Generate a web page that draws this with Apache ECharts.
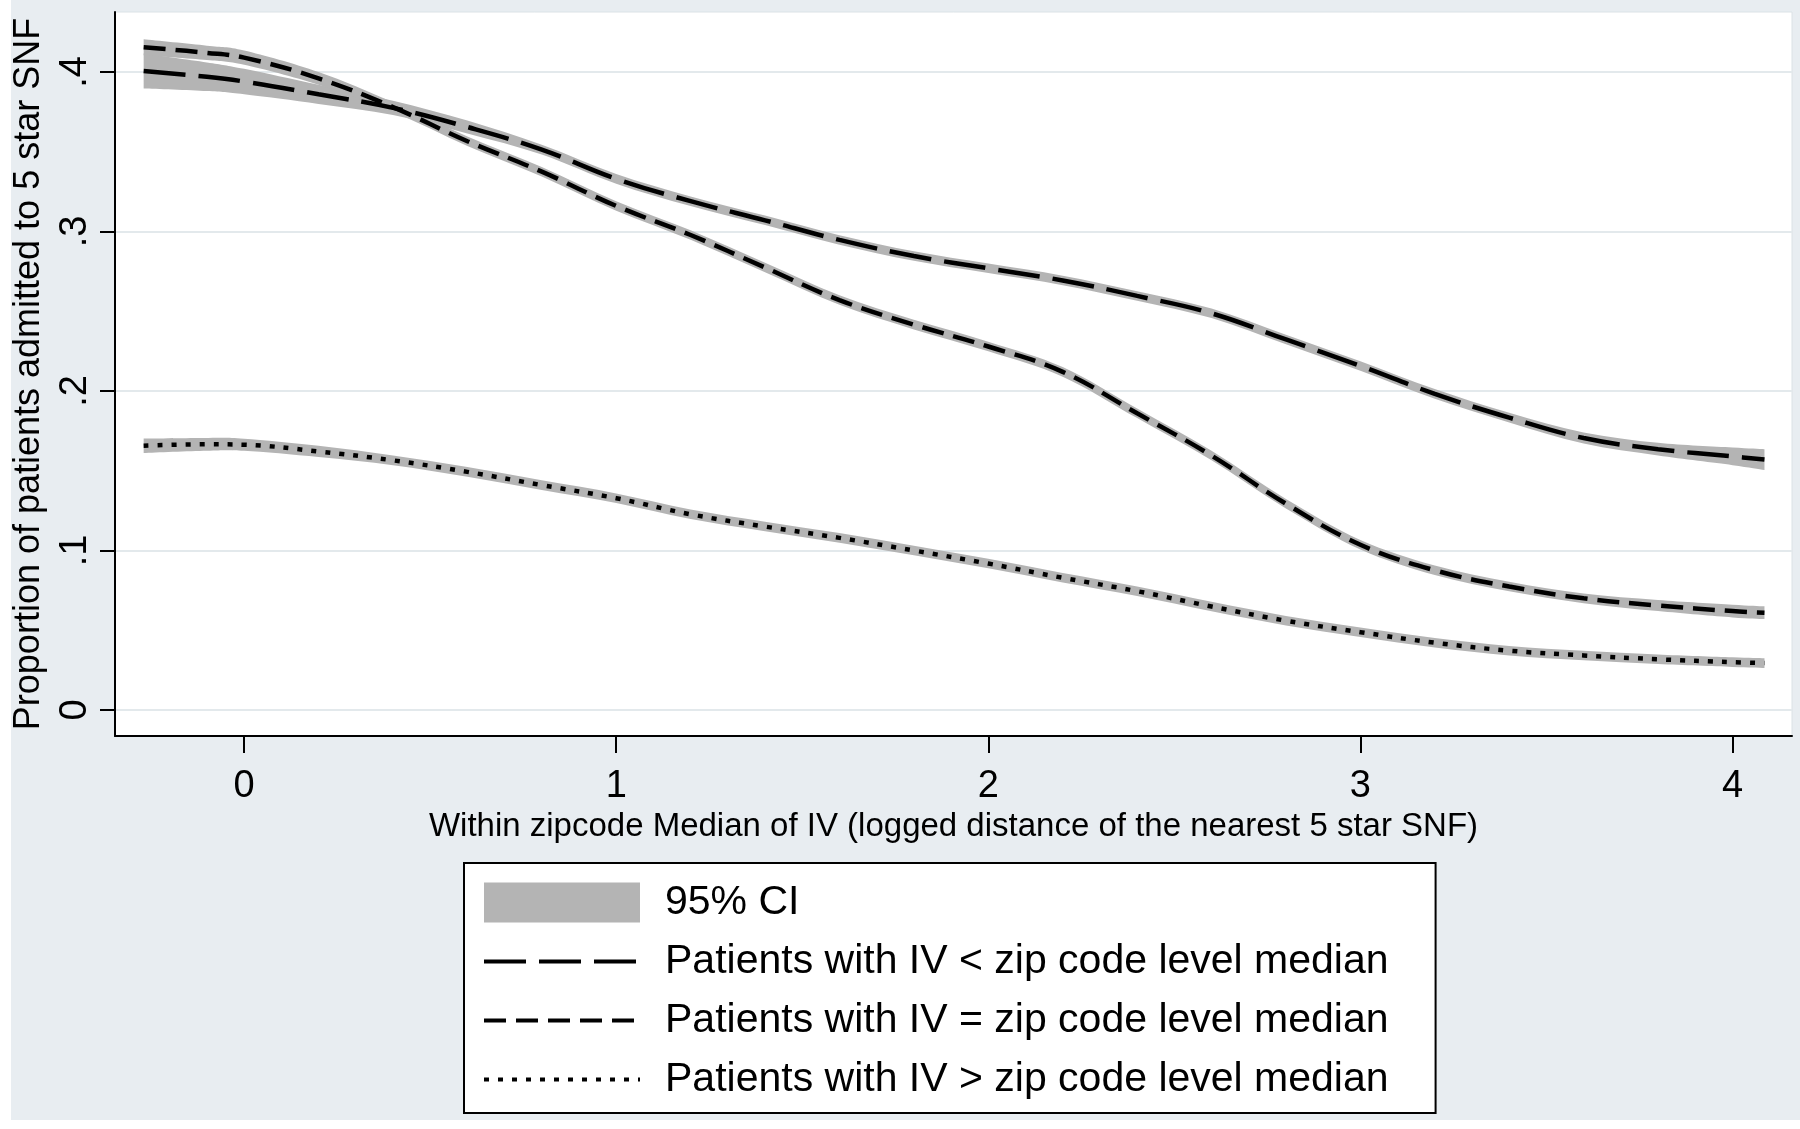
<!DOCTYPE html>
<html>
<head>
<meta charset="utf-8">
<script src="https://cdn.jsdelivr.net/npm/echarts@6/dist/echarts.min.js"></script>
<style>
html,body{margin:0;padding:0;background:#fff;}
#chart{width:1800px;height:1129px;}
</style>
</head>
<body>
<div id="chart"></div>
<script>
// x positions (within zipcode median of IV)
const xVals = [-0.27, -0.1, 0, 0.2, 0.4, 0.6, 0.8, 1.0, 1.2, 1.4, 1.6, 1.8, 2.0, 2.2, 2.4, 2.6, 2.8, 3.0, 3.2, 3.4, 3.6, 3.8, 4.0, 4.086];

// Patients with IV < zip code level median
const lessMid = [0.4006, 0.397, 0.394, 0.386, 0.3775, 0.3655, 0.3513, 0.333, 0.319, 0.307, 0.2947, 0.2846, 0.2769, 0.2693, 0.2596, 0.2487, 0.2323, 0.2157, 0.1982, 0.1833, 0.1705, 0.1635, 0.159, 0.157];
const lessLo  = [0.3896, 0.388, 0.386, 0.380, 0.373, 0.3615, 0.3483, 0.330, 0.316, 0.304, 0.2917, 0.2816, 0.2739, 0.2663, 0.2566, 0.2457, 0.2293, 0.2127, 0.1952, 0.1803, 0.167, 0.1595, 0.1535, 0.1505];
const lessHi  = [0.4116, 0.406, 0.402, 0.392, 0.382, 0.3695, 0.3543, 0.336, 0.322, 0.310, 0.2977, 0.2876, 0.2799, 0.2723, 0.2626, 0.2517, 0.2353, 0.2187, 0.2012, 0.1863, 0.174, 0.1675, 0.1645, 0.1635];

// Patients with IV = zip code level median
const eqMid = [0.4155, 0.412, 0.409, 0.396, 0.378, 0.3566, 0.3375, 0.316, 0.2978, 0.2774, 0.257, 0.2416, 0.2279, 0.212, 0.186, 0.1595, 0.1293, 0.1036, 0.0876, 0.0774, 0.070, 0.0655, 0.062, 0.061];
const eqLo  = [0.4105, 0.4075, 0.4045, 0.392, 0.375, 0.3536, 0.3345, 0.313, 0.2948, 0.2744, 0.254, 0.2386, 0.2249, 0.209, 0.183, 0.1565, 0.1263, 0.1006, 0.0846, 0.0744, 0.067, 0.062, 0.058, 0.057];
const eqHi  = [0.4205, 0.4165, 0.4135, 0.400, 0.381, 0.3596, 0.3405, 0.319, 0.3008, 0.2804, 0.260, 0.2446, 0.2309, 0.215, 0.189, 0.1625, 0.1323, 0.1066, 0.0906, 0.0804, 0.073, 0.069, 0.066, 0.065];

// Patients with IV > zip code level median
const gtMid = [0.1657, 0.1666, 0.1663, 0.1621, 0.1565, 0.1493, 0.141, 0.1328, 0.1227, 0.115, 0.1079, 0.100, 0.0918, 0.0829, 0.0745, 0.0649, 0.056, 0.0488, 0.0422, 0.0372, 0.0342, 0.0318, 0.030, 0.0294];
const gtLo  = [0.1612, 0.1626, 0.1625, 0.1586, 0.1535, 0.1463, 0.138, 0.1298, 0.1197, 0.112, 0.1049, 0.097, 0.0888, 0.0799, 0.0715, 0.0619, 0.053, 0.0458, 0.0392, 0.0342, 0.0312, 0.0288, 0.027, 0.0264];
const gtHi  = [0.1702, 0.1706, 0.1701, 0.1656, 0.1595, 0.1523, 0.144, 0.1358, 0.1257, 0.118, 0.1109, 0.103, 0.0948, 0.0859, 0.0775, 0.0679, 0.059, 0.0518, 0.0452, 0.0402, 0.0372, 0.0348, 0.033, 0.0324];

const xTicks = [0, 1, 2, 3, 4];
const yTicks = [0, 0.1, 0.2, 0.3, 0.4];
const yTickLabels = ['0', '.1', '.2', '.3', '.4'];

const seriesNames = [
  'Patients with IV < zip code level median',
  'Patients with IV = zip code level median',
  'Patients with IV > zip code level median'
];
const ciName = '95% CI';

const FONT = '"Liberation Sans", Arial, sans-serif';
const CI_COLOR = '#b4b4b4';

function pairs(ys) { return xVals.map((x, i) => [x, ys[i]]); }

// Catmull-Rom spline through pixel points, as SVG path commands (no leading M)
function splineCmds(p) {
  let s = '';
  const n = p.length;
  for (let i = 0; i < n - 1; i++) {
    const p0 = p[Math.max(i - 1, 0)], p1 = p[i], p2 = p[i + 1], p3 = p[Math.min(i + 2, n - 1)];
    const c1x = p1[0] + (p2[0] - p0[0]) / 6, c1y = p1[1] + (p2[1] - p0[1]) / 6;
    const c2x = p2[0] - (p3[0] - p1[0]) / 6, c2y = p2[1] - (p3[1] - p1[1]) / 6;
    s += ' C' + c1x.toFixed(2) + ',' + c1y.toFixed(2) + ' ' + c2x.toFixed(2) + ',' + c2y.toFixed(2) + ' ' + p2[0].toFixed(2) + ',' + p2[1].toFixed(2);
  }
  return s;
}

// CI band drawn as one smooth closed path through the axis scales (api.coord)
function bandSeries(key, lo, hi) {
  return {
    name: 'ci-band-' + key, type: 'custom', silent: true,
    itemStyle: { color: CI_COLOR, borderWidth: 0 },
    data: xVals.map((x, i) => [x, lo[i], hi[i]]),
    encode: { x: 0, y: [1, 2] },
    renderItem: function (params, api) {
      if (params.dataIndex !== 0) return null;
      const upper = [], lower = [];
      for (let i = 0; i < xVals.length; i++) {
        upper.push(api.coord([xVals[i], hi[i]]));
        lower.push(api.coord([xVals[i], lo[i]]));
      }
      lower.reverse();
      const d = 'M' + upper[0][0].toFixed(2) + ',' + upper[0][1].toFixed(2) + splineCmds(upper) +
        ' L' + lower[0][0].toFixed(2) + ',' + lower[0][1].toFixed(2) + splineCmds(lower) + ' Z';
      return {
        type: 'path',
        shape: { pathData: d, layout: 'none' },
        style: { fill: CI_COLOR, stroke: null }
      };
    }
  };
}

function lineSeries(name, mid, dash) {
  return {
    name: name, type: 'line', data: pairs(mid), smooth: 0.4, symbol: 'none', showSymbol: false,
    itemStyle: { color: '#000' },
    lineStyle: { color: '#000', width: 4.5, type: dash },
    z: 3
  };
}

const chart = echarts.init(document.getElementById('chart'), null, { renderer: 'canvas' });

const option = {
  backgroundColor: '#ffffff',
  animation: false,
  textStyle: { fontFamily: FONT, color: '#000' },
  graphic: [
    { type: 'rect', z: -100, shape: { x: 11, y: 0, width: 1789, height: 1120 }, style: { fill: '#e8edf1' } }
  ],
  grid: {
    left: 115, right: 8, top: 12, bottom: 393,
    show: true, backgroundColor: '#ffffff', borderColor: '#dbe2e6', borderWidth: 1
  },
  xAxis: {
    type: 'value', min: -0.347, max: 4.16,
    name: 'Within zipcode Median of IV (logged distance of the nearest 5 star SNF)',
    nameLocation: 'middle', nameGap: 70,
    nameTextStyle: { fontSize: 33, color: '#000', fontFamily: FONT },
    axisLine: { show: true, onZero: false, lineStyle: { color: '#000', width: 2 } },
    axisTick: { show: true, customValues: xTicks, length: 17, lineStyle: { color: '#000', width: 2 } },
    axisLabel: { customValues: xTicks, fontSize: 38, color: '#000', margin: 32, fontFamily: FONT },
    splitLine: { show: false }
  },
  yAxis: {
    type: 'value', min: -0.0163, max: 0.4376,
    name: 'Proportion of patients admitted to 5 star SNF',
    nameLocation: 'middle', nameGap: 68,
    nameTextStyle: { fontSize: 36, color: '#000', fontFamily: FONT },
    axisLine: { show: true, onZero: false, lineStyle: { color: '#000', width: 2 } },
    axisTick: { show: true, customValues: yTicks, length: 15, lineStyle: { color: '#000', width: 2 } },
    axisLabel: {
      customValues: yTicks, rotate: 90, fontSize: 38, color: '#000', margin: 20, fontFamily: FONT,
      formatter: function (v) { const i = yTicks.findIndex(t => Math.abs(t - v) < 1e-9); return i >= 0 ? yTickLabels[i] : ''; }
    },
    splitLine: { show: true, lineStyle: { color: '#e3e9ec', width: 2 } }
  },
  legend: {
    show: true,
    orient: 'vertical',
    left: 464, top: 863,
    data: [
      { name: ciName, icon: 'rect', itemStyle: { color: CI_COLOR, opacity: 1, borderWidth: 0 } },
      { name: seriesNames[0] },
      { name: seriesNames[1] },
      { name: seriesNames[2] }
    ],
    backgroundColor: '#ffffff',
    borderColor: '#000', borderWidth: 2, borderRadius: 0,
    padding: [19, 47, 13, 18],
    itemWidth: 156, itemHeight: 40, itemGap: 18,
    selectedMode: false,
    itemStyle: { opacity: 0 },
    lineStyle: { width: 4 },
    textStyle: { fontSize: 41, color: '#000', fontFamily: FONT, padding: [0, 0, 0, 20], lineHeight: 40 }
  },
  series: [
    bandSeries('less', lessLo, lessHi),
    bandSeries('eq', eqLo, eqHi),
    bandSeries('gt', gtLo, gtHi),
    // legend entry for the shaded 95% CI bands (no marks of its own)
    { name: ciName, type: 'bar', data: [], itemStyle: { color: CI_COLOR, borderWidth: 0 } },
    lineSeries(seriesNames[0], lessMid, [42, 13]),
    lineSeries(seriesNames[1], eqMid, [22, 10]),
    lineSeries(seriesNames[2], gtMid, [5, 9])
  ]
};

chart.setOption(option);
</script>
</body>
</html>
